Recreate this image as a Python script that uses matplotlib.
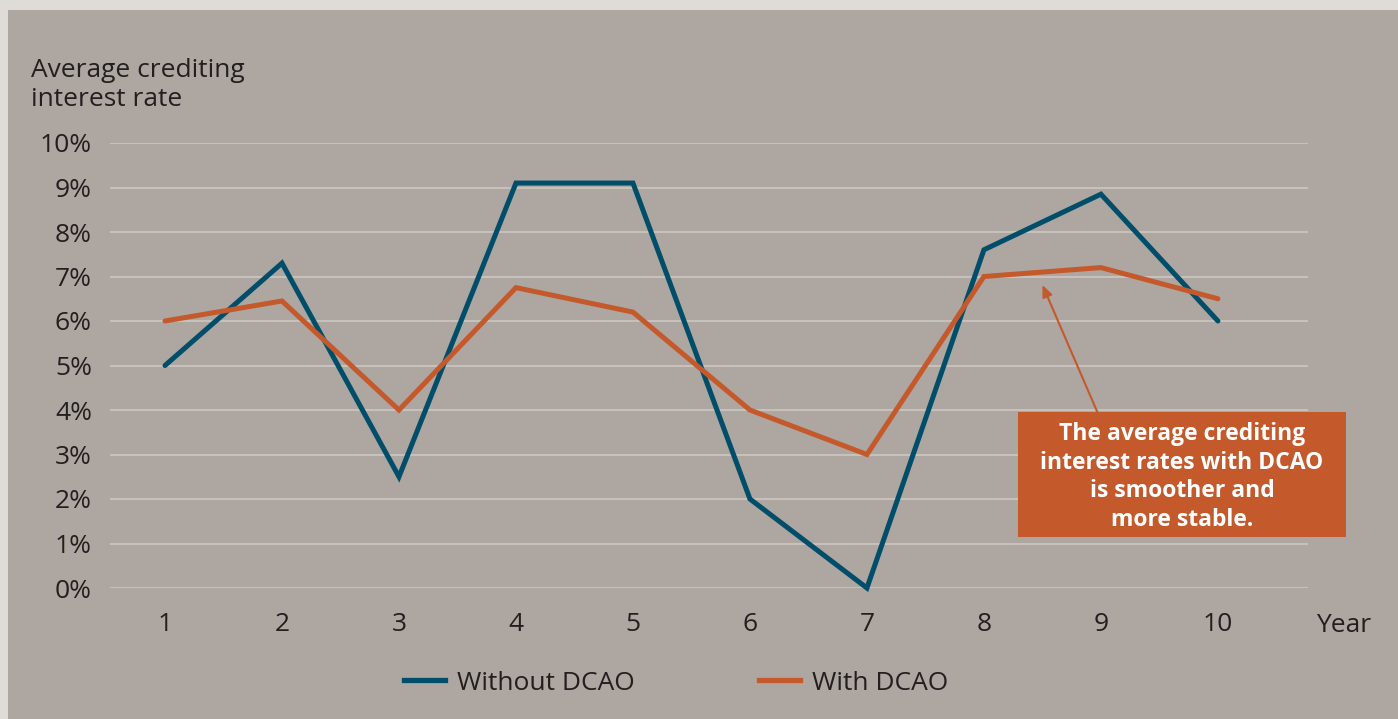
import matplotlib
matplotlib.use('Agg')
import matplotlib.pyplot as plt
from matplotlib.lines import Line2D
from matplotlib.patches import Rectangle

plt.rcParams['font.family'] = 'Open Sans'

years = [1, 2, 3, 4, 5, 6, 7, 8, 9, 10]
without_dcao = [5.0, 7.3, 2.5, 9.1, 9.1, 2.0, 0.0, 7.6, 8.85, 6.0]
with_dcao = [6.0, 6.45, 4.0, 6.75, 6.2, 4.0, 3.0, 7.0, 7.2, 6.5]
y_ticks = list(range(0, 11))

BLUE = '#004e6a'
ORANGE = '#c4592c'
TEXT = '#231f20'
PANEL = '#aea6a0'
FRAME = '#dfdbd7'
GRID = '#cdc7c2'

W, H = 1398, 719
fig = plt.figure(figsize=(W / 100, H / 100), dpi=100)
fig.patch.set_facecolor(FRAME)
fig.add_artist(Rectangle((8 / W, 0), 1 - 8 / W, 1 - 10 / H,
                         transform=fig.transFigure, facecolor=PANEL,
                         edgecolor='none', zorder=0))

# axes: x 110..1308 px, y 143 (10%) .. 588 (0%)
ax = fig.add_axes([110 / W, (H - 588) / H, (1308 - 110) / W, (588 - 143) / H])
ax.set_facecolor('none')
ax.set_xlim(0.53, 10.77)
ax.set_ylim(0, 10)
for s in ax.spines.values():
    s.set_visible(False)
ax.set_yticks(y_ticks)
ax.set_yticklabels([f'{v}%' for v in y_ticks], fontsize=19, color=TEXT)
ax.set_xticks(years)
ax.set_xticklabels([str(y) for y in years], fontsize=19, color=TEXT)
ax.tick_params(axis='x', length=0, pad=17.5)
ax.tick_params(axis='y', length=0, pad=13)
for v in y_ticks:
    ax.axhline(v, color=GRID, linewidth=1.2, zorder=1)

ax.plot(years, without_dcao, color=BLUE, linewidth=3.6, solid_joinstyle='miter',
        solid_capstyle='round', zorder=3, clip_on=False)
ax.plot(years, with_dcao, color=ORANGE, linewidth=3.6, solid_joinstyle='miter',
        solid_capstyle='round', zorder=4, clip_on=False)

fig.text(31 / W, 1 - 85 / H, 'Average crediting\ninterest rate', fontsize=19,
         color=TEXT, ha='left', va='center', linespacing=1.22)
fig.text(1316 / W, 1 - 625 / H, 'Year', fontsize=19, color=TEXT,
         ha='left', va='center')

# annotation box with arrow
ax.annotate('', xy=(8.50, 6.81), xytext=(8.97, 3.95),
            arrowprops=dict(arrowstyle='-|>,head_length=0.7,head_width=0.3',
                            color=ORANGE, linewidth=1.5, shrinkA=0, shrinkB=0),
            zorder=5)
fig.add_artist(Rectangle((1018 / W, 1 - 537 / H), 328 / W, 125 / H,
                         transform=fig.transFigure, facecolor=ORANGE,
                         edgecolor='none', zorder=6))
fig.text(1182 / W, 1 - 477 / H,
         'The average crediting\ninterest rates with DCAO\nis smoother and\nmore stable.',
         fontsize=16.5, fontweight='bold', color='white', ha='center', va='center',
         linespacing=1.25, zorder=7)

handles = [Line2D([], [], color=BLUE, linewidth=3.8),
           Line2D([], [], color=ORANGE, linewidth=3.8)]
fig.legend(handles, ['Without DCAO', 'With DCAO'], loc='center',
           bbox_to_anchor=(676 / W, 1 - 683 / H), ncol=2, frameon=False,
           fontsize=19, handlelength=1.55, handletextpad=0.45, columnspacing=4.7,
           labelcolor=TEXT)

fig.savefig('out.png', dpi=100, facecolor=FRAME)
